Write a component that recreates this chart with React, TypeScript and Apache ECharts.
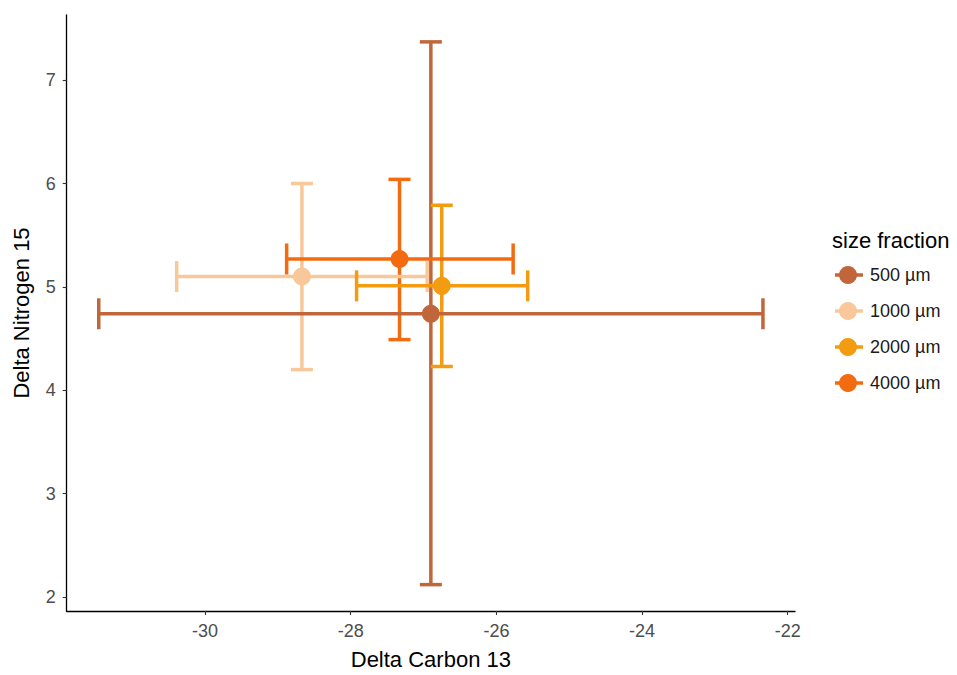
import React, { useEffect, useRef } from "react";
import * as echarts from "echarts";

const sizeFractions = ["500 µm", "1000 µm", "2000 µm", "4000 µm"];
const colors = ["#c0663a", "#f9c89a", "#f39c12", "#f36b10"];
const carbonMean = [-26.9, -28.67, -26.75, -27.33];
const carbonLow = [-31.46, -30.39, -27.92, -28.88];
const carbonHigh = [-22.34, -26.95, -25.57, -25.77];
const nitrogenMean = [4.74, 5.1, 5.01, 5.27];
const nitrogenLow = [2.12, 4.2, 4.23, 4.49];
const nitrogenHigh = [7.37, 6.0, 5.79, 6.04];
const xTicks = [-30, -28, -26, -24, -22];
const yTicks = [2, 3, 4, 5, 6, 7];

const FONT = "'Liberation Sans', Arial, sans-serif";

export default function App() {
  const ref = useRef<HTMLDivElement>(null);

  useEffect(() => {
    document.body.style.margin = "0";
    if (!ref.current) return;
    const chart = echarts.init(ref.current, undefined, { renderer: "svg" });

    const vData = sizeFractions.map((_, i) => [carbonMean[i], nitrogenLow[i], nitrogenHigh[i], i]);
    const hData = sizeFractions.map((_, i) => [carbonLow[i], carbonHigh[i], nitrogenMean[i], i]);

    const lw = 3.5;
    const vCap = 11;
    const hCap = 15.5;

    const vSeries = {
      type: "custom",
      clip: false,
      z: 2,
      data: vData,
      encode: { x: 0, y: [1, 2] },
      renderItem: (params: any, api: any) => {
        const x = api.value(0);
        const lo = api.coord([x, api.value(1)]);
        const hi = api.coord([x, api.value(2)]);
        const c = colors[api.value(3)];
        const st = { stroke: c, lineWidth: lw, fill: null };
        return {
          type: "group",
          children: [
            { type: "line", shape: { x1: lo[0], y1: lo[1], x2: hi[0], y2: hi[1] }, style: st },
            { type: "line", shape: { x1: lo[0] - vCap, y1: lo[1], x2: lo[0] + vCap, y2: lo[1] }, style: st },
            { type: "line", shape: { x1: hi[0] - vCap, y1: hi[1], x2: hi[0] + vCap, y2: hi[1] }, style: st },
          ],
        };
      },
    };

    const hSeries = {
      type: "custom",
      clip: false,
      z: 3,
      data: hData,
      encode: { x: [0, 1], y: 2 },
      renderItem: (params: any, api: any) => {
        const y = api.value(2);
        const lo = api.coord([api.value(0), y]);
        const hi = api.coord([api.value(1), y]);
        const c = colors[api.value(3)];
        const st = { stroke: c, lineWidth: lw, fill: null };
        return {
          type: "group",
          children: [
            { type: "line", shape: { x1: lo[0], y1: lo[1], x2: hi[0], y2: hi[1] }, style: st },
            { type: "line", shape: { x1: lo[0], y1: lo[1] - hCap, x2: lo[0], y2: lo[1] + hCap }, style: st },
            { type: "line", shape: { x1: hi[0], y1: hi[1] - hCap, x2: hi[0], y2: hi[1] + hCap }, style: st },
          ],
        };
      },
    };

    const pointSeries = sizeFractions.map((name, i) => ({
      type: "scatter",
      name,
      z: 4,
      symbol: "circle",
      symbolSize: 18,
      itemStyle: { color: colors[i], opacity: 1 },
      data: [[carbonMean[i], nitrogenMean[i]]],
    }));

    const legendTop = 275;
    const legendStep = 36;
    const legendGraphics: any[] = [
      {
        type: "text",
        x: 832,
        y: 240,
        style: {
          text: "size fraction",
          fontSize: 22,
          fontFamily: FONT,
          fill: "#000",
          verticalAlign: "middle",
          align: "left",
        },
      },
    ];
    sizeFractions.forEach((name, i) => {
      const y = legendTop + i * legendStep;
      legendGraphics.push(
        { type: "line", shape: { x1: 835, y1: y, x2: 863, y2: y }, style: { stroke: colors[i], lineWidth: 3.5 } },
        { type: "circle", shape: { cx: 848, cy: y, r: 9 }, style: { fill: colors[i] } },
        {
          type: "text",
          x: 870,
          y,
          style: {
            text: name,
            fontSize: 18,
            fontFamily: FONT,
            fill: "#1a1a1a",
            verticalAlign: "middle",
            align: "left",
          },
        }
      );
    });

    const axisCommon = {
      type: "value",
      splitLine: { show: false },
      axisLine: { show: true, onZero: false, lineStyle: { color: "#000", width: 1.3 } },
      nameLocation: "middle",
      nameTextStyle: { fontSize: 22, fontFamily: FONT, color: "#000" },
    };

    chart.setOption({
      animation: false,
      backgroundColor: "#fff",
      grid: { left: 66.7, right: 162, top: 15, bottom: 63 },
      xAxis: {
        ...axisCommon,
        min: -31.9,
        max: -21.9,
        name: "Delta Carbon 13",
        nameGap: 37,
        axisTick: { show: true, length: 4, lineStyle: { color: "#333", width: 1.1 }, customValues: xTicks },
        axisLabel: {
          customValues: xTicks,
          color: "#4d4d4d",
          fontSize: 18,
          fontFamily: FONT,
          margin: 11,
        },
      },
      yAxis: {
        ...axisCommon,
        min: 1.865,
        max: 7.63,
        name: "Delta Nitrogen 15",
        nameGap: 34,
        axisTick: { show: true, length: 4, lineStyle: { color: "#333", width: 1.1 }, customValues: yTicks },
        axisLabel: {
          customValues: yTicks,
          color: "#4d4d4d",
          fontSize: 18,
          fontFamily: FONT,
          margin: 11,
        },
      },
      series: [vSeries, hSeries, ...pointSeries],
      graphic: legendGraphics,
    } as any);

    return () => chart.dispose();
  }, []);

  return <div ref={ref} style={{ width: 957, height: 675 }} />;
}
